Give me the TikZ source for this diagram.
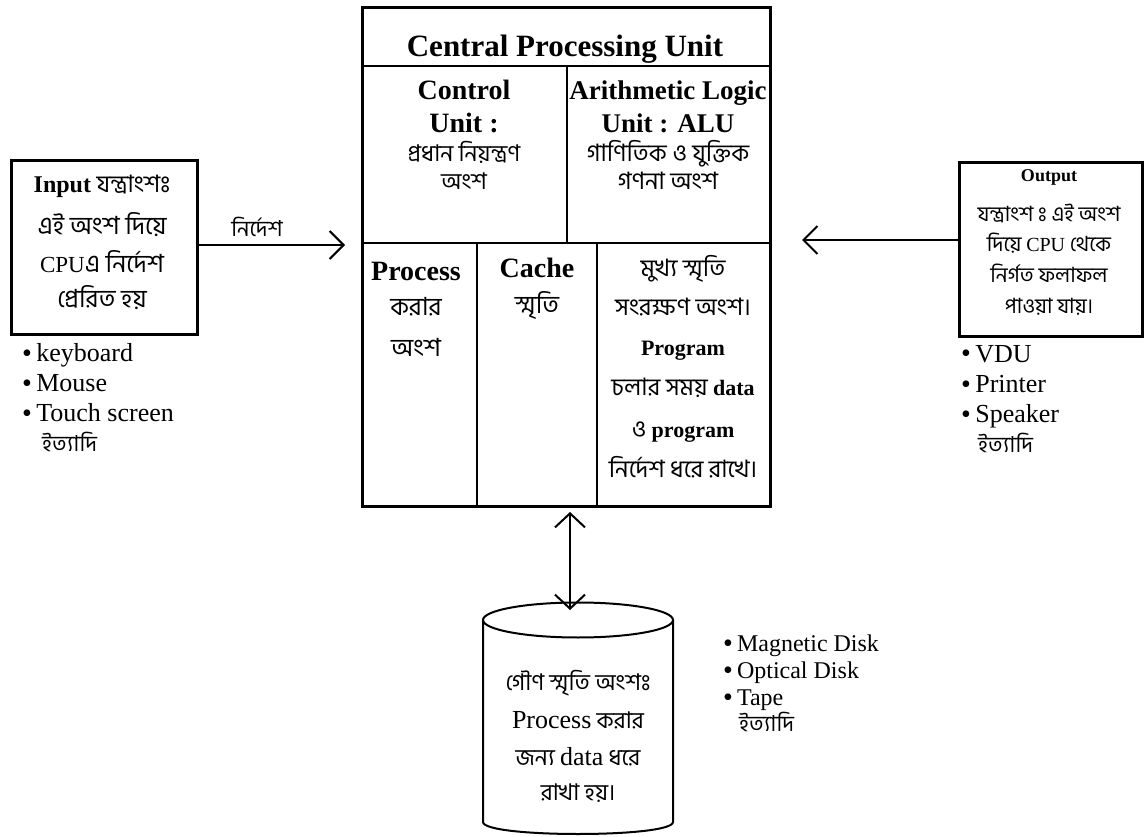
\documentclass[tikz,border=0pt]{standalone}
\usepackage{fontspec}
\setmainfont{Liberation Serif}
\newfontfamily\bn[Script=Bengali]{Hind Siliguri}
\usetikzlibrary{arrows.meta}
\newcommand\setfs[1]{\fontsize{#1}{#1}\selectfont}
\newcommand\bul{\raisebox{-1pt}{\rmfamily\setfs{28}\textbullet}\,}
\newcommand\visarga{\XeTeXglyph\XeTeXcharglyph"0983\relax}
\begin{document}
\begin{tikzpicture}[x=1pt,y=-1pt,
  frame/.style={draw,line width=2.6pt,inner sep=0pt,anchor=north west},
  sep/.style={line width=2.4pt},
  txt/.style={inner sep=0pt,anchor=base},
  ltxt/.style={inner sep=0pt,anchor=base west},
  hb/.style={font=\bfseries\setfs{#1}},
  rm/.style={font=\setfs{#1}},
  bb/.style={font=\bn\setfs{#1}},
  arr/.style={line width=2pt,-{Straight Barb[length=14pt,width=28pt,line width=2pt]}},
  darr/.style={line width=2pt,{Straight Barb[length=14pt,width=30pt,line width=2pt]}-{Straight Barb[length=14pt,width=30pt,line width=2pt]}}
]
\useasboundingbox[fill=white] (0,0) rectangle (1144,837);

% CPU frame and internal divisions
\node[frame,minimum width=408pt,minimum height=499pt] (cpu) at (361,6) {};
\draw[sep] (361,66) -- (769,66);
\draw[sep] (567,66) -- (567,243);
\draw[sep] (361,243) -- (769,243);
\draw[sep] (477,243) -- (477,505);
\draw[sep] (597,243) -- (597,505);

\node[txt,hb=31] (title) at (565,57) {Central Processing Unit};
\node[txt,hb=28] (cu1) at (464,100) {Control};
\node[txt,hb=28] (cu2) at (464,133) {Unit :};
\node[txt,bb=23] (cu3) at (464,162) {প্রধান নিয়ন্ত্রণ};
\node[txt,bb=23] (cu4) at (464,190) {অংশ};
\node[txt,hb=27] (alu1) at (668,100) {Arithmetic Logic};
\node[txt,hb=27] (alu2) at (668,133) {Unit : ALU};
\node[txt,bb=24] (alu3) at (668,162) {গাণিতিক ও যুক্তিক};
\node[txt,bb=24] (alu4) at (668,190) {গণনা অংশ};

\node[txt,hb=28] (pr1) at (416,280) {Process};
\node[txt,bb=25] (pr2) at (416,316) {করার};
\node[txt,bb=25] (pr3) at (416,356) {অংশ};
\node[txt,hb=28] (ca1) at (537,278) {Cache};
\node[txt,bb=25] (ca2) at (537,313) {স্মৃতি};
\node[txt,bb=24] (mm1) at (683,277) {মুখ্য স্মৃতি};
\node[txt,bb=24] (mm2) at (683,316) {সংরক্ষণ অংশ।};
\node[txt,hb=22] (mm3) at (683,355) {Program};
\node[txt,bb=24] (mm4) at (683,395) {চলার সময় {\rmfamily\bfseries\setfs{22}data}};
\node[txt,bb=24] (mm5) at (683,437) {ও {\rmfamily\bfseries\setfs{22}program}};
\node[txt,bb=24] (mm6) at (683,477) {নির্দেশ ধরে রাখে।};

% Input
\node[frame,minimum width=186pt,minimum height=174pt] (inbox) at (10,159) {};
\node[txt,bb=24] (in1) at (102,193) {{\rmfamily\bfseries\setfs{24}Input} যন্ত্রাংশঃ};
\node[txt,bb=25] (in2) at (102,235) {এই অংশ দিয়ে};
\node[txt,bb=25] (in3) at (102,273) {{\rmfamily\setfs{23}CPU}এ নির্দেশ};
\node[txt,bb=25] (in4) at (102,308) {প্রেরিত হয়};
\node[ltxt,rm=26] (ib1) at (22,361) {\bul keyboard};
\node[ltxt,rm=26] (ib2) at (22,391) {\bul Mouse};
\node[ltxt,rm=26] (ib3) at (22,421) {\bul Touch screen};
\node[ltxt,bb=22] (ib4) at (42,451) {ইত্যাদি};

\coordinate (inEnd) at (345,245);
\draw[arr] (inbox.east |- inEnd) -- (inEnd);
\node[txt,bb=22] (lab) at (257,237) {নির্দেশ};

% Output
\node[frame,minimum width=183pt,minimum height=174pt] (outbox) at (958,161) {};
\node[txt,hb=18] (o1) at (1049,182) {Output};
\node[txt,bb=21] (o2) at (1049,222) {যন্ত্রাংশ \visarga{} এই অংশ};
\node[txt,bb=21] (o3) at (1049,252) {দিয়ে {\rmfamily\setfs{20}CPU} থেকে};
\node[txt,bb=21] (o4) at (1049,283) {নির্গত ফলাফল};
\node[txt,bb=21] (o5) at (1049,313) {পাওয়া যায়।};
\node[ltxt,rm=26] (ob1) at (961,362) {\bul VDU};
\node[ltxt,rm=26] (ob2) at (961,392) {\bul Printer};
\node[ltxt,rm=26] (ob3) at (961,422) {\bul Speaker};
\node[ltxt,bb=22] (ob4) at (978,452) {ইত্যাদি};

\coordinate (outEnd) at (802,240);
\draw[arr] (outbox.west |- outEnd) -- (outEnd);

% Secondary storage cylinder
\draw[line width=2pt] (578,620) ellipse [x radius=95, y radius=17.5];
\draw[line width=2pt] (483,620) -- (483,822) .. controls (483,838) and (673,838) .. (673,822) -- (673,620);
\coordinate (cylTop) at (570,610);
\coordinate (cpuBot) at (570,512);
\draw[darr] (cpuBot) -- (cylTop);
\node[txt,bb=23] (cy1) at (578,690) {গৌণ স্মৃতি অংশঃ};
\node[txt,bb=23] (cy2) at (578,728) {{\rmfamily\setfs{26}Process} করার};
\node[txt,bb=23] (cy3) at (578,765) {জন্য {\rmfamily\setfs{26}data} ধরে};
\node[txt,bb=23] (cy4) at (578,800) {রাখা হয়।};

\node[ltxt,rm=24] (db1) at (723,651) {\bul Magnetic Disk};
\node[ltxt,rm=24] (db2) at (723,678) {\bul Optical Disk};
\node[ltxt,rm=24] (db3) at (723,705) {\bul Tape};
\node[ltxt,bb=22] (db4) at (739,731) {ইত্যাদি};
\end{tikzpicture}
\end{document}
